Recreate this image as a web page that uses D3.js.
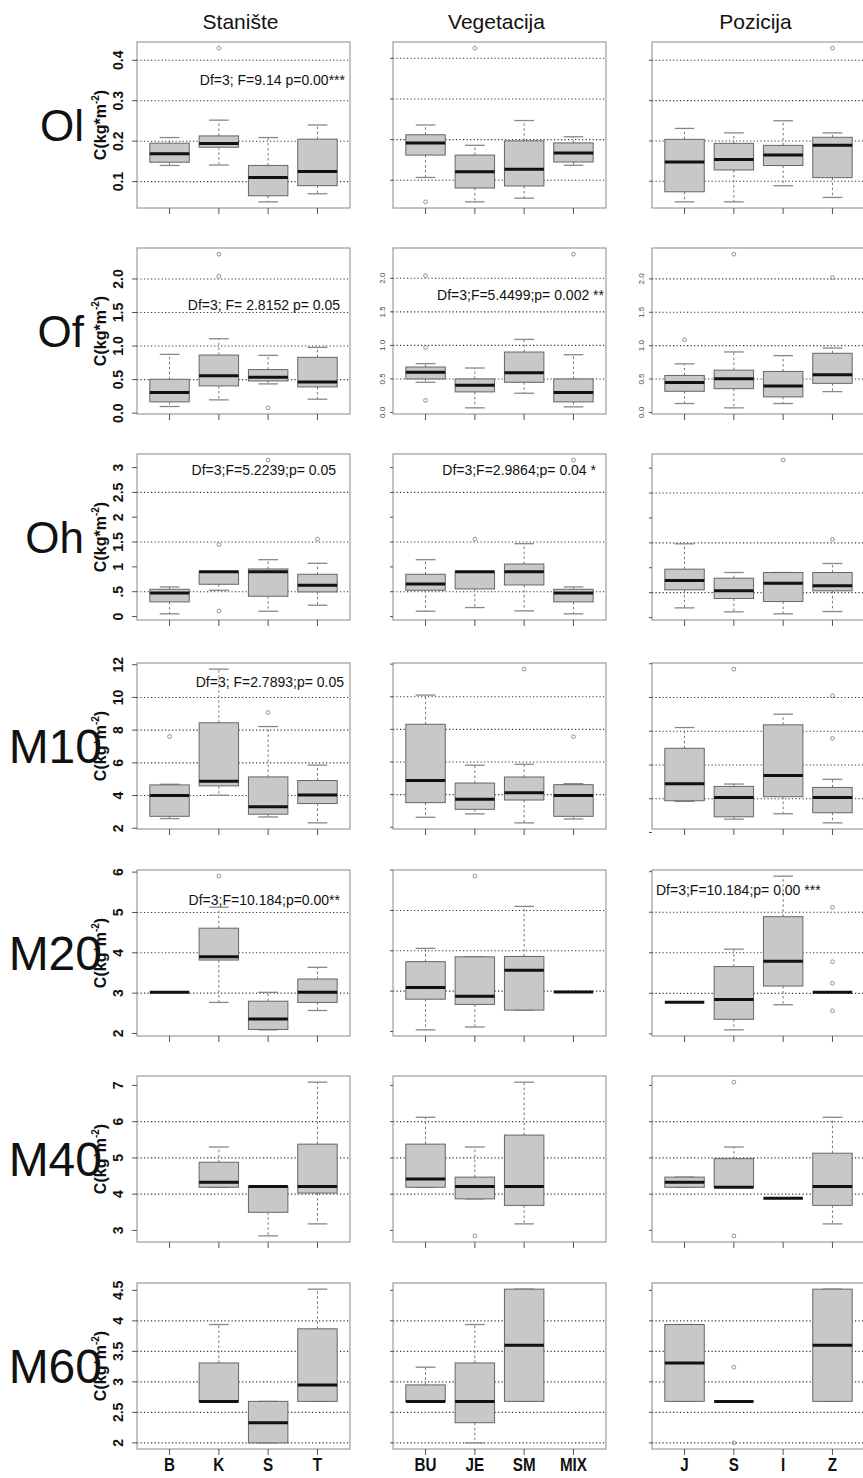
<!DOCTYPE html>
<html><head><meta charset="utf-8">
<script src="https://cdnjs.cloudflare.com/ajax/libs/d3/7.8.5/d3.min.js"></script>
<style>html,body{margin:0;padding:0;background:#fff}svg{display:block}</style>
</head><body>
<script>
// ---------- categories & labels ----------
const catStaniste = ["B","K","S","T"];
const catVegetacija = ["BU","JE","SM","MIX"];
const catPozicija = ["J","S","I","Z"];
const columnTitles = ["Stanište","Vegetacija","Pozicija"];
const rowLabels = ["Ol","Of","Oh","M10","M20","M40","M60"];

// ---------- box statistics: [lowWhisker, Q1, median, Q3, highWhisker, outliers] ----------
const ol_stan = [[0.140,0.148,0.169,0.195,0.209,[]],[0.141,0.185,0.194,0.213,0.252,[0.43]],[0.050,0.065,0.110,0.140,0.209,[]],[0.070,0.090,0.125,0.205,0.240,[]]];
const ol_veg  = [[0.107,0.162,0.192,0.212,0.236,[0.047]],[0.047,0.081,0.121,0.162,0.186,[0.425]],[0.056,0.086,0.127,0.197,0.247,[]],[0.137,0.145,0.167,0.192,0.207,[]]];
const ol_poz  = [[0.049,0.074,0.148,0.204,0.231,[]],[0.049,0.128,0.154,0.194,0.220,[]],[0.089,0.139,0.165,0.189,0.250,[]],[0.060,0.109,0.189,0.209,0.220,[0.43]]];

const of_stan = [[0.099,0.168,0.307,0.505,0.876,[]],[0.198,0.406,0.559,0.866,1.109,[2.04,2.37]],[0.436,0.480,0.535,0.649,0.861,[0.079]],[0.208,0.391,0.465,0.832,0.980,[]]];
const of_veg  = [[0.450,0.500,0.599,0.678,0.728,[0.18,0.97,2.04]],[0.069,0.307,0.406,0.500,0.663,[]],[0.287,0.450,0.594,0.901,1.089,[]],[0.084,0.158,0.297,0.500,0.861,[2.36]]];
const of_poz  = [[0.134,0.317,0.450,0.554,0.728,[1.089]],[0.069,0.356,0.505,0.634,0.906,[2.37]],[0.134,0.233,0.396,0.614,0.851,[]],[0.312,0.436,0.564,0.886,0.965,[2.02]]];

const oh_stan = [[0.054,0.295,0.476,0.549,0.596,[]],[0.529,0.650,0.904,0.904,0.904,[0.11,1.45]],[0.107,0.409,0.904,0.958,1.145,[3.15]],[0.228,0.496,0.630,0.851,1.072,[1.56]]];
const oh_veg  = [[0.107,0.529,0.656,0.851,1.145,[]],[0.181,0.556,0.904,0.904,0.904,[1.56]],[0.114,0.636,0.904,1.058,1.467,[]],[0.054,0.295,0.476,0.549,0.596,[3.15]]];
const oh_poz  = [[0.194,0.556,0.743,0.971,1.48,[]],[0.114,0.382,0.536,0.790,0.904,[]],[0.074,0.321,0.690,0.904,0.904,[3.16]],[0.121,0.536,0.636,0.904,1.085,[1.57]]];

const m10_stan = [[2.59,2.73,4.00,4.65,4.69,[7.61]],[4.02,4.59,4.88,8.45,11.73,[]],[2.69,2.86,3.31,5.14,8.22,[9.08]],[2.33,3.51,4.04,4.92,5.86,[]]];
const m10_veg  = [[2.61,3.51,4.86,8.31,10.10,[]],[2.82,3.10,3.71,4.71,5.80,[]],[2.27,3.67,4.12,5.08,5.86,[11.69]],[2.51,2.67,3.94,4.61,4.67,[7.55]]];
const m10_poz  = [[3.84,3.88,4.89,6.99,8.22,[]],[2.79,2.93,4.08,4.73,4.87,[11.68]],[3.11,4.12,5.37,8.38,9.01,[]],[2.57,3.17,4.08,4.67,5.15,[7.58,10.1]]];

const m20_stan = [[3.02,3.02,3.02,3.02,3.02,[]],[2.77,3.82,3.90,4.61,5.13,[5.90]],[2.09,2.10,2.36,2.80,3.02,[]],[2.57,2.77,3.02,3.35,3.64,[]]];
const m20_veg  = [[2.04,2.80,3.09,3.73,4.06,[]],[2.11,2.67,2.87,3.85,3.85,[5.85]],[2.53,2.53,3.52,3.86,5.10,[]],[2.98,2.98,2.98,2.98,2.98,[]]];
const m20_poz  = [[2.78,2.78,2.78,2.78,2.78,[]],[2.10,2.36,2.85,3.66,4.09,[]],[2.72,3.18,3.79,4.89,5.89,[]],[3.03,3.03,3.03,3.03,3.03,[2.57,3.25,3.78,5.12]]];

const m40_stan = [null,[4.19,4.19,4.33,4.88,5.30,[]],[2.85,3.50,4.21,4.21,4.21,[]],[3.18,4.03,4.21,5.38,7.09,[]]];
const m40_veg  = [[4.19,4.19,4.42,5.38,6.12,[]],[3.87,3.87,4.21,4.47,5.30,[2.85]],[3.18,3.69,4.21,5.63,7.09,[]],null];
const m40_poz  = [[4.19,4.19,4.33,4.47,4.47,[]],[4.19,4.19,4.19,4.98,5.30,[2.85,7.09]],[3.89,3.89,3.89,3.89,3.89,[]],[3.18,3.69,4.21,5.13,6.12,[]]];

const m60_stan = [null,[2.68,2.68,2.68,3.31,3.94,[]],[2.00,2.00,2.33,2.68,2.68,[]],[2.68,2.68,2.95,3.87,4.52,[]]];
const m60_veg  = [[2.68,2.68,2.68,2.95,3.24,[]],[2.00,2.33,2.68,3.31,3.94,[]],[2.68,2.68,3.60,4.52,4.52,[]],null];
const m60_poz  = [[2.68,2.68,3.31,3.94,3.94,[]],[2.68,2.68,2.68,2.68,2.68,[2.00,3.24]],null,[2.68,2.68,3.60,4.52,4.52,[]]];

// ---------- y ticks, tick labels, grid lines ----------
const ol_ticks = [0.1,0.2,0.3,0.4],            ol_tickLabels = ["0.1","0.2","0.3","0.4"],           ol_grid = [0.1,0.2,0.3,0.4];
const of_ticks = [0,0.5,1,1.5,2],              of_tickLabels = ["0.0","0.5","1.0","1.5","2.0"],     of_grid = [0.5,1,1.5,2];
const oh_ticks = [0,0.5,1,1.5,2,2.5,3],        oh_tickLabels = ["0",".5","1","1.5","2","2.5","3"],  oh_grid = [0.5,1.5,2.5];
const m10_ticks = [2,4,6,8,10,12],             m10_tickLabels = ["2","4","6","8","10","12"],        m10_grid = [4,6,8,10];
const m20_ticks = [2,3,4,5,6],                 m20_tickLabels = ["2","3","4","5","6"],              m20_grid = [3,4,5];
const m40_ticks = [3,4,5,6,7],                 m40_tickLabels = ["3","4","5","6","7"],              m40_grid = [4,5,6];
const m60_ticks = [2,2.5,3,3.5,4,4.5],         m60_tickLabels = ["2","2.5","3","3.5","4","4.5"],    m60_grid = [2,2.5,3,3.5,4];

// ---------- ANOVA annotations ----------
const statText  = ["Df=3; F=9.14 p=0.00***","Df=3; F= 2.8152 p= 0.05","Df=3;F=5.4499;p= 0.002 **","Df=3;F=5.2239;p= 0.05","Df=3;F=2.9864;p= 0.04 *","Df=3; F=2.7893;p= 0.05","Df=3;F=10.184;p=0.00**","Df=3;F=10.184;p= 0.00 ***"];
const statRow   = [0,1,1,2,2,3,4,4];
const statCol   = [0,0,1,0,1,0,0,2];

// ---------- assemble tables ----------
const panelData = [[ol_stan,ol_veg,ol_poz],[of_stan,of_veg,of_poz],[oh_stan,oh_veg,oh_poz],[m10_stan,m10_veg,m10_poz],[m20_stan,m20_veg,m20_poz],[m40_stan,m40_veg,m40_poz],[m60_stan,m60_veg,m60_poz]];
const rowTicks = [ol_ticks,of_ticks,oh_ticks,m10_ticks,m20_ticks,m40_ticks,m60_ticks];
const rowTickLabels = [ol_tickLabels,of_tickLabels,oh_tickLabels,m10_tickLabels,m20_tickLabels,m40_tickLabels,m60_tickLabels];
const rowGrid = [ol_grid,of_grid,oh_grid,m10_grid,m20_grid,m40_grid,m60_grid];
const colCats = [catStaniste,catVegetacija,catPozicija];

// ---------- layout ----------
const W = 863, H = 1478;
const colLeft = [137, 393, 652], panelW = 213;
const rowTop = [42, 248, 454, 663, 870, 1076, 1283], panelH = 166;
const statPos = [ // [anchor, dx from panel edge, dy from panel top]
  ["end",-5,38],["end",-10,57],["end",-2,47],["end",-14,16],["end",-10,16],["end",-6,19],["end",-10,30],["start",4,20]];
const FONT = "'Liberation Sans', Arial, sans-serif";

const svg = d3.select("body").append("svg").attr("width",W).attr("height",H)
  .style("font-family",FONT);
svg.append("rect").attr("width",W).attr("height",H).attr("fill","#fff");

// column titles
columnTitles.forEach((t,c)=>{
  svg.append("text").attr("x",colLeft[c]+panelW/2-3).attr("y",29)
    .attr("text-anchor","middle").attr("font-size",21).attr("fill","#111").text(t);
});

const scales = [];
panelData.forEach((row,r)=>{
  scales[r] = [];
  const top = rowTop[r], bottom = top+panelH;
  row.forEach((boxes,c)=>{
    const left = colLeft[c], right = left+panelW;
    const vals = [];
    boxes.forEach(b=>{ if(b){ vals.push(...b.slice(0,5), ...b[5]); } });
    const mn = d3.min(vals), mx = d3.max(vals), ext = (mx-mn)*0.04;
    const y = d3.scaleLinear().domain([mn-ext, mx+ext]).range([bottom, top]);
    const x = d3.scalePoint().domain(colCats[c]).range([left,right]).padding(0.66);
    scales[r][c] = {x,y};
    const step = x.step();
    const g = svg.append("g");

    // grid
    g.selectAll("line.grid").data(rowGrid[r]).join("line")
      .attr("x1",left).attr("x2",right).attr("y1",d=>y(d)).attr("y2",d=>y(d))
      .attr("stroke","#333").attr("stroke-width",1.1).attr("stroke-dasharray","1.2,2.3");

    // boxes
    boxes.forEach((b,i)=>{
      if(!b) return;
      const cx = x(colCats[c][i]);
      const [lo,q1,med,q3,hi,outs] = b;
      const bw = step*0.8, cw = step*0.4;
      g.append("line").attr("x1",cx).attr("x2",cx).attr("y1",y(q3)).attr("y2",y(hi))
        .attr("stroke","#777").attr("stroke-dasharray","2.5,2.5").attr("stroke-width",1);
      g.append("line").attr("x1",cx).attr("x2",cx).attr("y1",y(q1)).attr("y2",y(lo))
        .attr("stroke","#777").attr("stroke-dasharray","2.5,2.5").attr("stroke-width",1);
      [lo,hi].forEach(v=>{
        g.append("line").attr("x1",cx-cw/2).attr("x2",cx+cw/2).attr("y1",y(v)).attr("y2",y(v))
          .attr("stroke","#888").attr("stroke-width",1.3);
      });
      g.append("rect").attr("x",cx-bw/2).attr("y",y(q3)).attr("width",bw)
        .attr("height",Math.max(0,y(q1)-y(q3)))
        .attr("fill","#c8c8c8").attr("stroke","#666").attr("stroke-width",1);
      g.append("line").attr("x1",cx-bw/2).attr("x2",cx+bw/2).attr("y1",y(med)).attr("y2",y(med))
        .attr("stroke","#111").attr("stroke-width",3);
      outs.forEach(o=>{
        g.append("circle").attr("cx",cx).attr("cy",y(o)).attr("r",1.9)
          .attr("fill","none").attr("stroke","#777").attr("stroke-width",0.8);
      });
    });

    // frame
    g.append("rect").attr("x",left).attr("y",top).attr("width",panelW).attr("height",panelH)
      .attr("fill","none").attr("stroke","#888").attr("stroke-width",1);

    // x ticks
    g.selectAll("line.xt").data(colCats[c]).join("line")
      .attr("x1",d=>x(d)).attr("x2",d=>x(d)).attr("y1",bottom).attr("y2",bottom+6)
      .attr("stroke","#555").attr("stroke-width",1);

    // y ticks
    const tl = c===0 ? 5 : 3;
    g.selectAll("line.yt").data(rowTicks[r]).join("line")
      .attr("x1",left).attr("x2",left-tl).attr("y1",d=>y(d)).attr("y2",d=>y(d))
      .attr("stroke","#555").attr("stroke-width",1);
    if(c===0){
      g.selectAll("text.yl").data(rowTicks[r]).join("text")
        .attr("transform",d=>`translate(${left-14},${y(d)}) rotate(-90)`)
        .attr("text-anchor","middle").attr("font-size",14).attr("font-weight","bold")
        .attr("fill","#111").text((d,k)=>rowTickLabels[r][k]);
    } else if(r===1){
      g.selectAll("text.yl").data(rowTicks[r]).join("text")
        .attr("transform",d=>`translate(${left-8},${y(d)}) rotate(-90)`)
        .attr("text-anchor","middle").attr("font-size",8).attr("fill","#444")
        .text((d,k)=>rowTickLabels[r][k]);
    }
  });

  // axis title
  const t = svg.append("text")
    .attr("transform",`translate(106,${top+panelH/2}) rotate(-90)`)
    .attr("text-anchor","middle").attr("font-size",16).attr("font-weight","bold").attr("fill","#111");
  t.append("tspan").text("C(kg*m");
  t.append("tspan").attr("font-size",10).attr("dy",-7).text("-2");
  t.append("tspan").attr("dy",7).text(")");

  // row label
  const big = r<3 ? 44 : 48;
  svg.append("text").attr("x",r<3?84:102).attr("y",top+panelH/2+big*0.358)
    .attr("text-anchor","end").attr("font-size",big).attr("fill","#111").text(rowLabels[r]);
});

// ANOVA annotations
statText.forEach((s,k)=>{
  const r = statRow[k], c = statCol[k], p = statPos[k];
  const xx = p[0]==="end" ? colLeft[c]+panelW+p[1] : colLeft[c]+p[1];
  svg.append("text").attr("x",xx).attr("y",rowTop[r]+p[2]+5).attr("text-anchor",p[0])
    .attr("font-size",14).attr("fill","#111").text(s);
});

// bottom category labels
colCats.forEach((cats,c)=>{
  const x = scales[6][c].x;
  cats.forEach(cat=>{
    svg.append("text").attr("transform",`translate(${x(cat)},1471) scale(0.8,1)`)
      .attr("text-anchor","middle").attr("font-size",19).attr("font-weight","bold")
      .attr("fill","#111").text(cat);
  });
});
</script>
</body></html>
